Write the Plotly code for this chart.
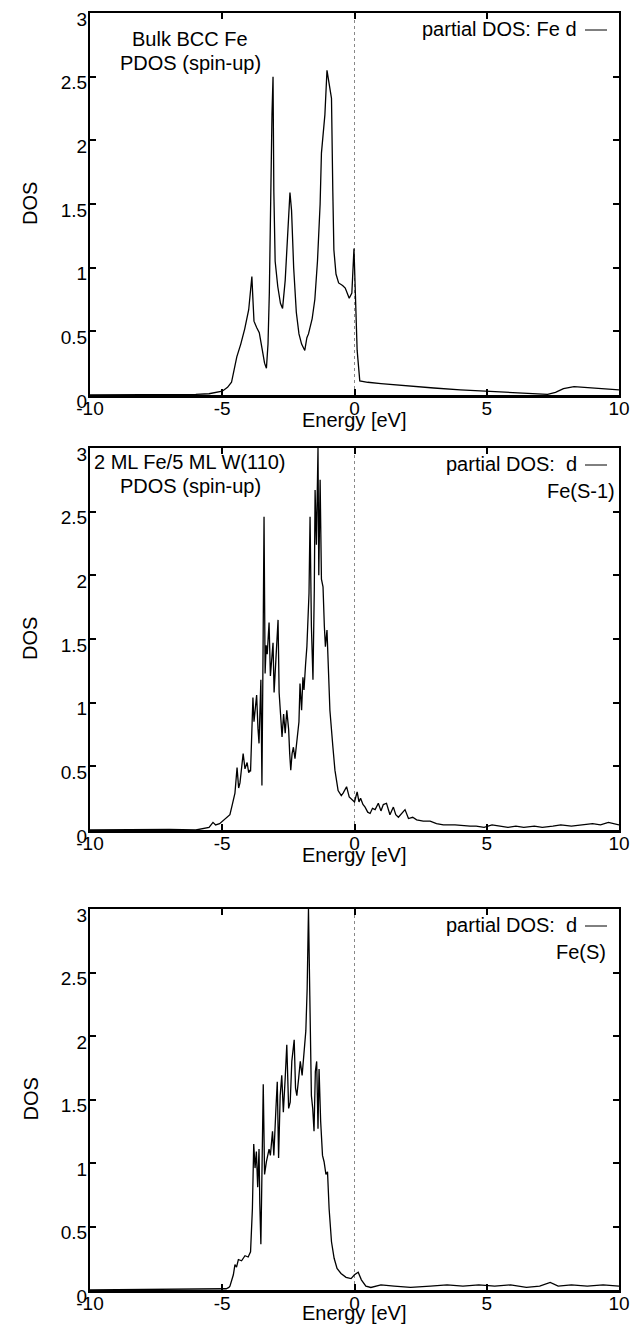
import plotly.graph_objects as go

# ---------------- data ----------------
# Panel 1: Bulk BCC Fe, d partial DOS (spin-up)
e_bulk = [-10, -7, -6, -5.5, -5.2, -5.0, -4.8, -4.65, -4.55, -4.45, -4.3, -4.15, -4.0, -3.93,
          -3.88, -3.84, -3.8, -3.7, -3.6, -3.5, -3.4, -3.33, -3.27, -3.22, -3.17, -3.12, -3.08,
          -3.05, -3.0, -2.9, -2.8, -2.72, -2.62, -2.55, -2.5, -2.44, -2.38, -2.3, -2.2, -2.1,
          -2.0, -1.88, -1.8, -1.74, -1.6, -1.5, -1.4, -1.3, -1.25, -1.2, -1.12, -1.04, -0.95,
          -0.87, -0.82, -0.78, -0.7, -0.6, -0.45, -0.35, -0.2, -0.1, -0.02, 0.03, 0.1, 0.2,
          0.5, 1.0, 2.0, 3.0, 4.0, 5.0, 6.0, 6.5, 7.0, 7.3, 7.6, 7.9, 8.3, 8.7, 9.2, 10]
dos_bulk = [0, 0, 0.005, 0.01, 0.02, 0.03, 0.06, 0.1, 0.2, 0.3, 0.4, 0.52, 0.67, 0.8,
            0.93, 0.75, 0.58, 0.53, 0.49, 0.37, 0.25, 0.21, 0.4, 0.8, 1.6, 2.2, 2.5,
            1.6, 1.05, 0.85, 0.72, 0.68, 0.9, 1.2, 1.4, 1.59, 1.45, 1.0, 0.65, 0.48,
            0.4, 0.35, 0.45, 0.48, 0.6, 0.75, 1.05, 1.5, 1.9, 2.02, 2.2, 2.55, 2.45,
            2.33, 1.6, 1.14, 0.95, 0.88, 0.86, 0.84, 0.76, 0.8, 1.15, 0.75, 0.35, 0.11,
            0.1, 0.09, 0.07, 0.055, 0.04, 0.03, 0.02, 0.01, 0.008, 0.005, 0.02, 0.05, 0.065, 0.06, 0.05, 0.04]

# Panel 2: 2 ML Fe/5 ML W(110), Fe(S-1) d PDOS (spin-up)
e_s1 = [-10, -9, -8, -7, -6.0, -5.7, -5.5, -5.35, -5.25, -5.1, -4.95, -4.85, -4.75,
        -4.71, -4.62, -4.52, -4.44, -4.38, -4.33, -4.27, -4.21, -4.14, -4.06, -4.0, -3.95, -3.93, -3.84, -3.8, -3.76, -3.7, -3.65, -3.61,
        -3.54, -3.5, -3.46, -3.42, -3.38, -3.34, -3.3, -3.23, -3.18, -3.12, -3.08, -3.04, -2.97, -2.89,
        -2.85, -2.8, -2.74, -2.68, -2.62, -2.56, -2.49, -2.45, -2.41, -2.36, -2.31, -2.25, -2.17, -2.1, -2.06, -2.0,
        -1.95, -1.91, -1.85, -1.8, -1.72, -1.68, -1.63, -1.57, -1.52, -1.49, -1.44, -1.38, -1.35, -1.3,
        -1.25, -1.19, -1.14, -1.1, -1.04, -1.0, -0.93, -0.82, -0.74, -0.62, -0.5, -0.43, -0.3,
        -0.2, -0.1, 0.0, 0.1, 0.17, 0.23, 0.32, 0.4, 0.5, 0.59, 0.68, 0.78, 0.9, 1.0, 1.09, 1.21, 1.34, 1.47, 1.56, 1.66, 1.8, 1.91,
        2.04, 2.2, 2.35, 2.6, 2.86, 3.1, 3.36, 3.8, 4.37, 4.6, 4.9, 5.2, 5.5, 5.8, 6.1, 6.4, 6.8, 7.1, 7.5,
        7.8, 8.2, 8.6, 9.0, 9.3, 9.6, 10]
dos_s1 = [0, 0.002, 0.003, 0.004, 0.0, 0.01, 0.02, 0.06, 0.04, 0.05, 0.08, 0.1, 0.12,
          0.12, 0.2, 0.29, 0.49, 0.33, 0.37, 0.52, 0.6, 0.48, 0.53, 0.45, 0.47, 0.46, 1.04, 0.85, 0.92, 1.06, 0.8, 0.68,
          1.18, 0.35, 1.34, 2.46, 1.23, 1.45, 1.38, 1.63, 1.21, 1.4, 1.47, 1.08, 1.34, 1.65,
          1.08, 0.95, 0.73, 0.91, 0.76, 0.94, 0.79, 0.6, 0.47, 0.6, 0.65, 0.56, 0.73, 0.85, 1.15, 0.94,
          1.2, 1.1, 1.3, 1.44, 1.86, 2.46, 1.6, 1.18, 1.89, 2.67, 2.24, 3.0, 2.0, 2.75,
          1.97, 1.91, 1.6, 1.44, 1.57, 1.34, 0.94, 0.66, 0.47, 0.31, 0.27, 0.29, 0.34,
          0.26, 0.24, 0.22, 0.3, 0.22, 0.25, 0.2, 0.18, 0.14, 0.13, 0.17, 0.16, 0.21, 0.15, 0.2, 0.21, 0.12, 0.18, 0.12, 0.1, 0.13, 0.16,
          0.09, 0.1, 0.08, 0.07, 0.07, 0.05, 0.04, 0.04, 0.03, 0.03, 0.02, 0.04, 0.03, 0.02, 0.03, 0.02, 0.03, 0.02, 0.03,
          0.04, 0.03, 0.04, 0.05, 0.04, 0.06, 0.04]

# Panel 3: Fe(S) surface d PDOS (spin-up)
e_s = [-10, -9, -8, -7, -6, -5.2, -5.0, -4.85, -4.75, -4.71, -4.58, -4.52, -4.46, -4.39,
       -4.27, -4.14, -4.02, -3.93, -3.86, -3.81, -3.76, -3.71, -3.66, -3.61, -3.58, -3.54,
       -3.5, -3.45, -3.4, -3.33, -3.23, -3.18, -3.1, -3.05, -2.97, -2.92, -2.87, -2.81,
       -2.75, -2.69, -2.62, -2.56, -2.49, -2.43, -2.37, -2.28, -2.23, -2.18, -2.11, -2.05,
       -1.98, -1.92, -1.84, -1.79, -1.74, -1.69, -1.63, -1.58, -1.53, -1.48, -1.43, -1.38,
       -1.34, -1.28, -1.21, -1.15, -1.08, -1.02, -0.96, -0.87, -0.77, -0.66, -0.51, -0.32,
       -0.13, 0.0, 0.14, 0.26, 0.43, 0.62, 1.0, 1.5, 2.12, 2.87, 3.5, 4.1, 4.7, 5.3, 5.9,
       6.5, 7.0, 7.4, 7.7, 8.2, 8.8, 9.4, 10]
dos_s = [0, 0.002, 0.003, 0.002, 0.003, 0.004, 0.005, 0.01, 0.02, 0.03, 0.12, 0.2, 0.18, 0.24,
         0.23, 0.27, 0.26, 0.3, 0.64, 1.15, 0.96, 1.09, 0.81, 1.11, 0.68, 0.36,
         0.91, 1.62, 0.91, 1.01, 1.11, 1.06, 1.25, 1.06, 1.43, 1.64, 1.04, 1.53,
         1.69, 1.4, 1.67, 1.93, 1.43, 1.48, 1.8, 1.97, 1.59, 1.53, 1.67, 1.8,
         1.69, 1.85, 2.04, 2.37, 3.0, 2.32, 1.53, 1.43, 1.25, 1.72, 1.8, 1.27,
         1.74, 1.33, 1.06, 1.01, 0.91, 0.93, 0.64, 0.38, 0.25, 0.17, 0.13, 0.1,
         0.09, 0.12, 0.14, 0.08, 0.03, 0.02, 0.04, 0.03, 0.02, 0.03, 0.04, 0.03, 0.04, 0.03, 0.04,
         0.02, 0.03, 0.06, 0.03, 0.04, 0.03, 0.04, 0.03]

x_ticks = [-10, -5, 0, 5, 10]
x_ticklabels = ["-10", "-5", "0", "5", "10"]
y_ticks = [0, 0.5, 1, 1.5, 2, 2.5, 3]
y_ticklabels = ["0", "0.5", "1", "1.5", "2", "2.5", "3"]

panels = [
    dict(e=e_bulk, d=dos_bulk, title=["Bulk BCC Fe", "PDOS (spin-up)"], legend="partial DOS: Fe d", site=None),
    dict(e=e_s1, d=dos_s1, title=["2 ML Fe/5 ML W(110)", "PDOS (spin-up)"], legend="partial DOS:  d", site="Fe(S-1)"),
    dict(e=e_s, d=dos_s, title=None, legend="partial DOS:  d", site="Fe(S)"),
]

# ---------------- layout geometry (pixels) ----------------
W, H = 644, 1325
X0, X1 = 90, 619
tops = [13, 448, 909]
bots = [395, 830, 1290]
title_off = [[26, 50], [14, 38], None]
energy_off = [25, 25, 23]

FONT = "Liberation Sans, Arial, Helvetica, sans-serif"
fs = 19
fa = 20

fig = go.Figure()
layout = dict(width=W, height=H, autosize=False, margin=dict(l=0, r=0, t=0, b=0, pad=0),
              paper_bgcolor="white", plot_bgcolor="white", showlegend=False,
              font=dict(family=FONT, size=fs, color="black"))
annotations = []
shapes = []

for i, p in enumerate(panels):
    n = "" if i == 0 else str(i + 1)
    xa, ya = "x" + n, "y" + n
    fig.add_trace(go.Scatter(x=p["e"], y=p["d"], mode="lines", xaxis=xa, yaxis=ya,
                             line=dict(color="black", width=1.3), cliponaxis=True,
                             hoverinfo="skip"))
    layout["xaxis" + n] = dict(domain=[X0 / W, X1 / W], anchor=ya, range=[-10, 10],
                               tickvals=x_ticks, ticktext=x_ticklabels, ticks="inside",
                               ticklen=6, tickwidth=2, tickcolor="black", showgrid=False,
                               zeroline=False, showline=True, linecolor="black", linewidth=2.5,
                               mirror="ticks", tickfont=dict(size=fs), ticklabelstandoff=-5,
                               automargin=False, fixedrange=True)
    layout["yaxis" + n] = dict(domain=[1 - bots[i] / H, 1 - tops[i] / H], anchor=xa, range=[0, 3],
                               tickvals=y_ticks, ticktext=y_ticklabels, ticks="inside",
                               ticklen=6, tickwidth=2, tickcolor="black", showgrid=False,
                               zeroline=False, showline=True, linecolor="black", linewidth=2,
                               mirror="ticks", tickfont=dict(size=fs), ticklabelstandoff=-3,
                               ticklabelshift=6, automargin=False, fixedrange=True)
    # dotted Fermi level
    shapes.append(dict(type="line", xref=xa, yref=ya + " domain", x0=0, x1=0, y0=0, y1=1,
                       line=dict(color="#888", width=1, dash="dot"), layer="below"))
    ph = bots[i] - tops[i]
    def ydom(py):
        return 1 - (py - tops[i]) / ph
    # axis titles
    annotations.append(dict(text="Energy [eV]", xref=xa + " domain", yref=ya + " domain",
                            x=(354 - X0) / (X1 - X0), y=-energy_off[i] / ph, showarrow=False,
                            xanchor="center", yanchor="middle", font=dict(size=fa)))
    annotations.append(dict(text="DOS", xref="paper", yref=ya + " domain",
                            x=30 / W, y=0.5, showarrow=False, textangle=-90,
                            xanchor="center", yanchor="middle", font=dict(size=fa)))
    # legend text and sample line
    annotations.append(dict(text=p["legend"], xref=xa + " domain", yref=ya + " domain",
                            x=(579 - X0) / (X1 - X0), y=ydom(tops[i] + 16), showarrow=False,
                            xanchor="right", yanchor="middle", font=dict(size=fa)))
    shapes.append(dict(type="line", xref=xa + " domain", yref=ya + " domain",
                       x0=(585 - X0) / (X1 - X0), x1=(607 - X0) / (X1 - X0),
                       y0=ydom(tops[i] + 17), y1=ydom(tops[i] + 17),
                       line=dict(color="black", width=1)))
    if p["site"]:
        annotations.append(dict(text=p["site"], xref=xa + " domain", yref=ya + " domain",
                                x=(581 - X0) / (X1 - X0), y=ydom(tops[i] + 43), showarrow=False,
                                xanchor="center", yanchor="middle", font=dict(size=fa)))
    if p["title"]:
        for k, t in enumerate(p["title"]):
            annotations.append(dict(text=t, xref=xa + " domain", yref=ya + " domain",
                                    x=(190 - X0) / (X1 - X0), y=ydom(tops[i] + title_off[i][k]),
                                    showarrow=False, xanchor="center", yanchor="middle",
                                    font=dict(size=fa)))

layout["annotations"] = annotations
layout["shapes"] = shapes
fig.update_layout(**layout)
fig.write_html("out.html", config={"displayModeBar": False, "staticPlot": True},
               post_script="document.body.style.margin='0';document.body.style.overflow='hidden';")
